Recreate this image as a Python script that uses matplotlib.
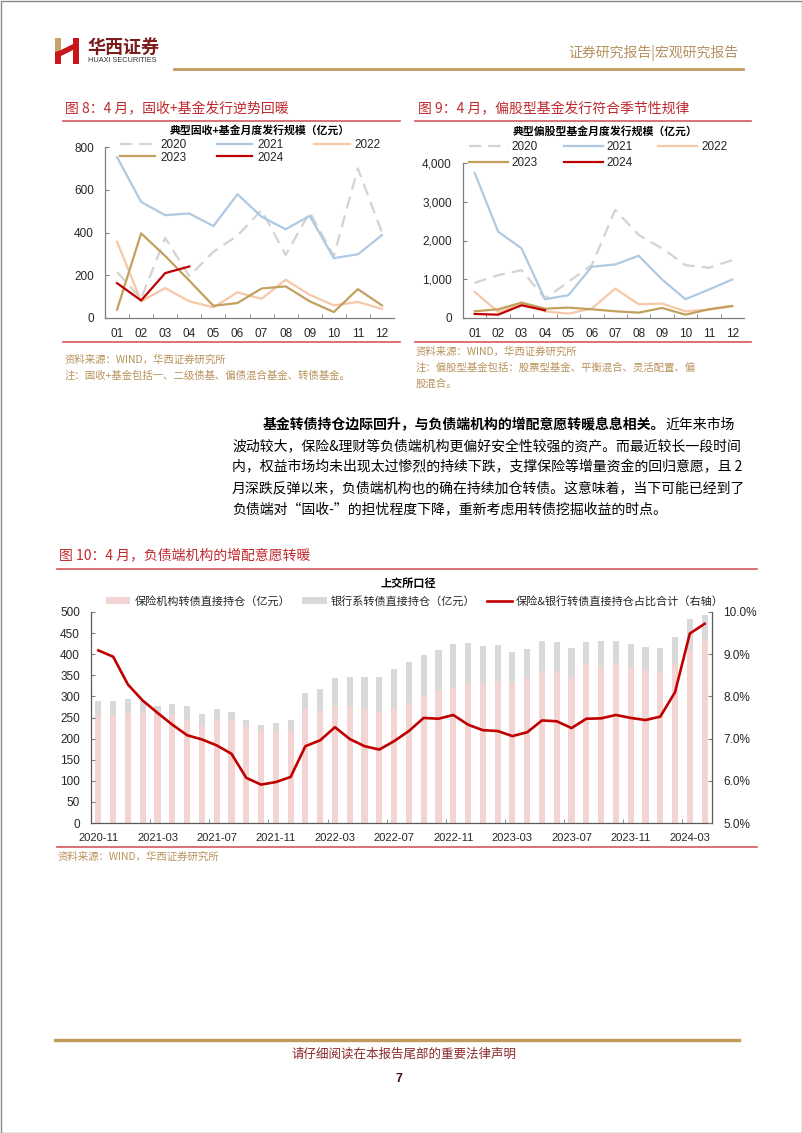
import numpy as np
import matplotlib
matplotlib.use('Agg')
import matplotlib.pyplot as plt
from matplotlib.patches import Rectangle, Polygon
from matplotlib.ticker import FuncFormatter

plt.rcParams['font.family'] = ['Liberation Sans', 'Noto Sans CJK SC']
plt.rcParams['axes.unicode_minus'] = False

W, H = 802, 1133
CJK = ['Noto Sans CJK SC', 'DejaVu Sans']

# ---- Fig 8: 固收+基金月度发行规模 (亿元) ----
months = ['01', '02', '03', '04', '05', '06', '07', '08', '09', '10', '11', '12']
fi_2020 = [215, 90, 375, 195, 310, 385, 505, 295, 495, 290, 700, 400]
fi_2021 = [753, 543, 481, 489, 430, 579, 474, 415, 478, 280, 298, 388]
fi_2022 = [357, 78, 140, 78, 50, 120, 90, 179, 109, 59, 75, 43]
fi_2023 = [39, 396, 290, 175, 57, 70, 138, 148, 78, 28, 135, 59]
fi_2024 = [163, 82, 210, 241]

# ---- Fig 9: 偏股型基金月度发行规模 (亿元) ----
eq_2020 = [907, 1106, 1235, 501, 933, 1365, 2790, 2143, 1797, 1365, 1296, 1495]
eq_2021 = [3741, 2229, 1797, 484, 588, 1322, 1382, 1607, 994, 484, 734, 994]
eq_2022 = [674, 156, 372, 173, 112, 242, 760, 354, 372, 173, 216, 302]
eq_2023 = [173, 225, 397, 242, 268, 225, 173, 138, 259, 86, 225, 311]
eq_2024 = [104, 86, 328, 199]

# ---- Fig 10: 上交所口径, 2020-11 .. 2024-04 ----
xtick_labels = ['2020-11', '2021-03', '2021-07', '2021-11', '2022-03', '2022-07',
                '2022-11', '2023-03', '2023-07', '2023-11', '2024-03']
insurance = [257, 257, 261, 260, 260, 257, 245, 233, 245, 245, 229, 221, 218, 218,
             269, 265, 277, 277, 269, 265, 273, 285, 301, 316, 320, 332, 332, 336,
             332, 344, 360, 360, 347, 376, 373, 380, 370, 365, 358, 380, 411, 435]
bank = [31, 31, 32, 29, 18, 26, 32, 26, 24, 19, 14, 12, 18, 27,
        38, 53, 66, 70, 77, 81, 91, 96, 97, 94, 105, 95, 87, 86,
        74, 69, 71, 70, 68, 54, 58, 51, 55, 53, 57, 61, 73, 59]
share_pct = [9.09, 8.94, 8.28, 7.90, 7.61, 7.33, 7.08, 6.98, 6.84, 6.64, 6.07, 5.91, 5.97, 6.09,
             6.82, 6.96, 7.27, 6.99, 6.82, 6.74, 6.94, 7.18, 7.49, 7.47, 7.56, 7.33, 7.20, 7.18,
             7.06, 7.15, 7.43, 7.41, 7.25, 7.47, 7.48, 7.56, 7.49, 7.44, 7.52, 8.10, 9.49, 9.72]

RED = '#C0282D'
RULE = '#D45A5A'
GOLD = '#C39A5E'
SRC = '#B8925A'
C2020, C2021, C2022, C2023, C2024 = '#D3D3D3', '#AFC9E2', '#F6C8A8', '#C4A05E', '#C00000'


def rect(x0, y0, x1, y1):
    # pixel box -> figure fraction [left, bottom, width, height]
    return [x0 / W, 1 - y1 / H, (x1 - x0) / W, (y1 - y0) / H]


def style_axes(ax):
    for s in ['top', 'right']:
        ax.spines[s].set_visible(False)
    for s in ['left', 'bottom']:
        ax.spines[s].set_color('#7f7f7f')
        ax.spines[s].set_linewidth(0.9)
    ax.tick_params(axis='both', direction='in', colors='#7f7f7f', labelcolor='#262626',
                   labelsize=8.5, length=3)
    ax.tick_params(axis='y', pad=8)
    ax.tick_params(axis='x', which='major', length=0, pad=7)
    ax.tick_params(axis='x', which='minor', length=3, direction='in', colors='#7f7f7f')


fig = plt.figure(figsize=(W / 100, H / 100), dpi=100)

# page layer in pixel coordinates
page = fig.add_axes([0, 0, 1, 1])
page.set_xlim(0, W)
page.set_ylim(H, 0)
page.axis('off')
page.add_patch(Rectangle((0.5, 0.5), W - 1, H - 1, fill=False, ec='#8a8a8a', lw=1))

# header logo
page.add_patch(Rectangle((55, 38), 6, 14, color='#C9A468', lw=0))
page.add_patch(Polygon([(55, 52), (61, 50), (61, 64), (55, 64)], color='#C8161D', lw=0))
page.add_patch(Rectangle((73, 38), 6, 26, color='#C8161D', lw=0))
page.add_patch(Polygon([(61, 50), (73, 44), (73, 50), (61, 56)], color='#C8161D', lw=0))
page.text(88, 47, '华西证券', family=CJK, fontsize=13, fontweight='bold', color='#7a1c1c',
          va='center', ha='left')
page.text(88, 61, 'HUAXI SECURITIES', fontsize=5.3, color='#333333', va='center', ha='left')
page.text(738, 53, '证券研究报告|宏观研究报告', family=CJK, fontsize=10, color='#B5915F',
          va='center', ha='right')
page.plot([174, 743], [69, 69], color=GOLD, lw=2)

# figure titles / rules
page.text(65, 109, '图 8：4 月，固收+基金发行逆势回暖', family=CJK, fontsize=10, color=RED,
          va='center')
page.text(418, 109, '图 9：4 月，偏股型基金发行符合季节性规律', family=CJK, fontsize=10,
          color=RED, va='center')
page.plot([63, 400], [121, 121], color=RULE, lw=1.2)
page.plot([415, 751], [121, 121], color=RULE, lw=1.2)
page.plot([63, 400], [342, 342], color=RULE, lw=1.2)
page.plot([415, 751], [342, 342], color=RULE, lw=1.2)

page.text(65, 360, '资料来源：WIND，华西证券研究所', family=CJK, fontsize=7.5, color=SRC, va='center')
page.text(65, 376, '注：固收+基金包括一、二级债基、偏债混合基金、转债基金。', family=CJK,
          fontsize=7.5, color=SRC, va='center')
page.text(416, 352, '资料来源：WIND，华西证券研究所', family=CJK, fontsize=7.5, color=SRC, va='center')
page.text(416, 368, '注：偏股型基金包括：股票型基金、平衡混合、灵活配置、偏', family=CJK,
          fontsize=7.5, color=SRC, va='center')
page.text(416, 384, '股混合。', family=CJK, fontsize=7.5, color=SRC, va='center')

# body paragraph
t1 = page.text(263, 425, '基金转债持仓边际回升，与负债端机构的增配意愿转暖息息相关。', family=CJK,
               fontsize=10, fontweight='bold', color='black', va='center')
page.annotate('近年来市场', xy=(1, 0.5), xycoords=t1, family=CJK, fontsize=10,
              color='black', va='center', ha='left')
body_lines = ['波动较大，保险&理财等负债端机构更偏好安全性较强的资产。而最近较长一段时间',
              '内，权益市场均未出现太过惨烈的持续下跌，支撑保险等增量资金的回归意愿，且 2',
              '月深跌反弹以来，负债端机构也的确在持续加仓转债。这意味着，当下可能已经到了',
              '负债端对“固收-”的担忧程度下降，重新考虑用转债挖掘收益的时点。']
for i, s in enumerate(body_lines):
    page.text(232, 446 + 21 * i, s, family=CJK, fontsize=10, color='black', va='center')

page.text(59, 555, '图 10：4 月，负债端机构的增配意愿转暖', family=CJK, fontsize=10, color=RED,
          va='center')
page.plot([57, 757], [569, 569], color=RULE, lw=1.2)
page.plot([57, 757], [847, 847], color=RULE, lw=1.2)
page.text(58, 857, '资料来源：WIND，华西证券研究所', family=CJK, fontsize=7.5, color=SRC, va='center')

# footer
page.plot([55, 739], [1040, 1040], color=GOLD, lw=2.4)
page.text(404, 1054, '请仔细阅读在本报告尾部的重要法律声明', family=CJK, fontsize=9,
          color='#8B2A2A', ha='center', va='center')
page.text(399, 1079, '7', fontsize=9, fontweight='bold', color='#4a1010', ha='center', va='center')

# ---------------- Fig 8 ----------------
x12 = np.arange(12)
ax8 = fig.add_axes(rect(105, 147, 394, 318))
dash = (0, (5.5, 3.2))
ax8.plot(x12, fi_2020, color=C2020, lw=1.6, ls=dash, label='2020')
ax8.plot(x12, fi_2021, color=C2021, lw=1.6, label='2021')
ax8.plot(x12, fi_2022, color=C2022, lw=1.6, label='2022')
ax8.plot(x12, fi_2023, color=C2023, lw=1.6, label='2023')
ax8.plot(np.arange(len(fi_2024)), fi_2024, color=C2024, lw=1.6, label='2024')
ax8.set_xlim(-0.5, 11.5)
ax8.set_ylim(0, 800)
ax8.set_yticks([0, 200, 400, 600, 800])
ax8.set_xticks(x12, months)
ax8.set_xticks(np.arange(0.5, 11.5, 1), minor=True)
style_axes(ax8)
page.text(260, 130, '典型固收+基金月度发行规模（亿元）', family=CJK, fontsize=7.8, fontweight='bold',
          color='black', ha='center', va='center')
h, l = ax8.get_legend_handles_labels()
order = [0, 3, 1, 4, 2]
ax8.legend([h[i] for i in order], [l[i] for i in order], ncol=3, frameon=False,
           loc='upper left', bbox_to_anchor=(120 / W, 1 - 139 / H), bbox_transform=fig.transFigure,
           borderpad=0, borderaxespad=0, handlelength=3.0, handletextpad=0.4,
           columnspacing=2.6, labelspacing=0.05, fontsize=8.5, labelcolor='#262626')

# ---------------- Fig 9 ----------------
ax9 = fig.add_axes(rect(463, 163, 744, 318))
ax9.plot(x12, eq_2020, color=C2020, lw=1.6, ls=dash, label='2020')
ax9.plot(x12, eq_2021, color=C2021, lw=1.6, label='2021')
ax9.plot(x12, eq_2022, color=C2022, lw=1.6, label='2022')
ax9.plot(x12, eq_2023, color=C2023, lw=1.6, label='2023')
ax9.plot(np.arange(len(eq_2024)), eq_2024, color=C2024, lw=1.6, label='2024')
ax9.set_xlim(-0.5, 11.5)
ax9.set_ylim(0, 4000)
ax9.set_yticks([0, 1000, 2000, 3000, 4000])
ax9.yaxis.set_major_formatter(FuncFormatter(lambda v, p: f'{v:,.0f}'))
ax9.set_xticks(x12, months)
ax9.set_xticks(np.arange(0.5, 11.5, 1), minor=True)
style_axes(ax9)
page.text(605, 131, '典型偏股型基金月度发行规模（亿元）', family=CJK, fontsize=7.8, fontweight='bold',
          color='black', ha='center', va='center')
h, l = ax9.get_legend_handles_labels()
ax9.legend([h[i] for i in order], [l[i] for i in order], ncol=3, frameon=False,
           loc='upper left', bbox_to_anchor=(469 / W, 1 - 141 / H), bbox_transform=fig.transFigure,
           borderpad=0, borderaxespad=0, handlelength=3.3, handletextpad=0.3,
           columnspacing=2.2, labelspacing=0.35, fontsize=8.5, labelcolor='#262626')

# ---------------- Fig 10 ----------------
n = len(insurance)
xb = np.arange(n)
ax10 = fig.add_axes(rect(91, 612, 712, 823))
b1 = ax10.bar(xb, insurance, width=0.42, color='#F2D5D2', label='保险机构转债直接持仓（亿元）')
b2 = ax10.bar(xb, bank, width=0.42, bottom=insurance, color='#D9D9D9',
              label='银行系转债直接持仓（亿元）')
ax10.set_xlim(-0.5, n - 0.5)
ax10.set_ylim(0, 500)
ax10.set_yticks(np.arange(0, 501, 50))
ax10.set_xticks(np.arange(0, n, 4), xtick_labels)
ax10.set_xticks(np.arange(-0.5, n, 4), minor=True)
style_axes(ax10)
ax10.spines['left'].set_color('#595959')
ax10.spines['bottom'].set_color('#595959')
ax10.tick_params(axis='x', labelsize=8)

ax10r = ax10.twinx()
ln, = ax10r.plot(xb, share_pct, color='#C00000', lw=1.9, label='保险&银行转债直接持仓占比合计（右轴）')
ax10r.set_ylim(5, 10)
ax10r.set_yticks(np.arange(5, 10.01, 1))
ax10r.yaxis.set_major_formatter(FuncFormatter(lambda v, p: f'{v:.1f}%'))
for s in ['top', 'left', 'bottom']:
    ax10r.spines[s].set_visible(False)
ax10r.spines['right'].set_color('#595959')
ax10r.spines['right'].set_linewidth(0.9)
ax10r.tick_params(axis='y', direction='in', colors='#7f7f7f', labelcolor='#262626',
                  labelsize=8.5, length=3, pad=8)

page.text(408, 583, '上交所口径', family=CJK, fontsize=8, fontweight='bold', color='black',
          ha='center', va='center')
ax10r.legend([b1, b2, ln], [b1.get_label(), b2.get_label(), ln.get_label()], ncol=3,
             frameon=False, loc='center left', bbox_to_anchor=(106 / W, 1 - 601 / H),
             bbox_transform=fig.transFigure, borderpad=0, borderaxespad=0,
             handlelength=2.2, handleheight=0.5, handletextpad=0.35, columnspacing=1.1,
             prop={'family': CJK, 'size': 8}, labelcolor='#262626')

fig.savefig('out.png', dpi=100)
